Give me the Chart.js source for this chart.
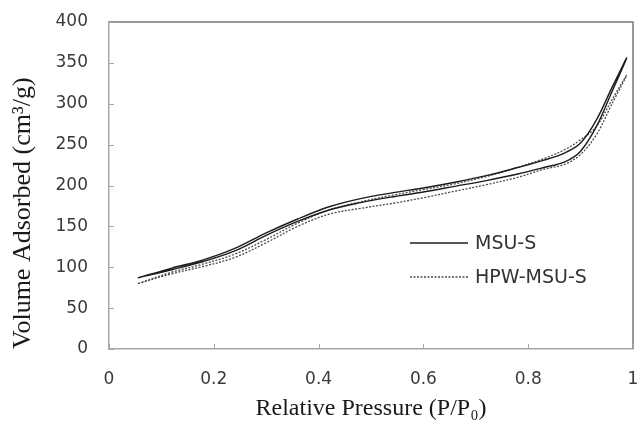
<!DOCTYPE html>
<html>
<head>
<meta charset="utf-8">
<script src="https://cdn.jsdelivr.net/npm/chart.js@4.4.0/dist/chart.umd.min.js"></script>
<style>
  html, body { margin: 0; padding: 0; background: #fff; }
</style>
</head>
<body>
<canvas id="isoChart" width="640" height="424"></canvas>
<script>
// relative pressure (P/P0) where the isotherms were read
const pressure = [0.055, 0.12, 0.18, 0.24, 0.30, 0.36, 0.42, 0.48, 0.54, 0.60, 0.66, 0.72, 0.78, 0.83, 0.87, 0.90, 0.93, 0.96, 0.988];

// MSU-S adsorption / desorption branch (cm3/g)
const msuAds = [87, 97, 107, 120, 139, 156, 170, 179, 186, 192, 199, 206, 214, 222, 229, 242, 272, 315, 356];
const msuDes = [87, 99, 109, 123, 142, 159, 174, 184, 191, 197, 204, 212, 222, 231, 240, 252, 280, 320, 356];

// HPW-MSU-S adsorption / desorption branch
const hpwAds = [80, 92, 101, 112, 130, 150, 165, 172, 178, 185, 193, 201, 210, 220, 226, 238, 262, 300, 335];
const hpwDes = [80, 94, 104, 116, 134, 154, 170, 180, 188, 195, 202, 211, 222, 233, 244, 256, 272, 305, 335];

const seriesNames = ['MSU-S', 'HPW-MSU-S'];
const xTicks = [0, 0.2, 0.4, 0.6, 0.8, 1];
const yTicks = [0, 50, 100, 150, 200, 250, 300, 350, 400];

// up the adsorption branch, back down the desorption branch
function loop(ads, des) {
    const pts = ads.map((v, i) => ({ x: pressure[i], y: v }));
    for (let i = des.length - 2; i >= 0; i--) {
        pts.push({ x: pressure[i], y: des[i] });
    }
    return pts;
}

// top/right frame, inward tick marks and the legend inside the plot
const framePlugin = {
    id: 'frame',
    afterDraw(chart) {
        const { ctx, chartArea: a, scales } = chart;
        ctx.save();
        ctx.lineWidth = 1.5;
        ctx.strokeStyle = '#7a7a7a';
        ctx.beginPath();
        ctx.moveTo(a.left, a.top);
        ctx.lineTo(a.right, a.top);
        ctx.lineTo(a.right, a.bottom);
        ctx.stroke();

        ctx.lineWidth = 1;
        ctx.strokeStyle = '#a8a8a8';
        ctx.beginPath();
        yTicks.forEach(v => {
            const y = Math.round(scales.y.getPixelForValue(v)) + 0.5;
            ctx.moveTo(a.left, y);
            ctx.lineTo(a.left + 5, y);
        });
        xTicks.forEach(v => {
            const x = Math.round(scales.x.getPixelForValue(v)) + 0.5;
            ctx.moveTo(x, a.bottom);
            ctx.lineTo(x, a.bottom - 5);
        });
        ctx.stroke();

        // legend
        const lx = a.left + 301, ly = a.top + 221, gap = 34;
        chart.data.datasets.forEach((ds, i) => {
            const y = ly + i * gap;
            ctx.strokeStyle = ds.borderColor;
            ctx.lineWidth = ds.borderWidth;
            ctx.setLineDash(ds.borderDash || []);
            ctx.beginPath();
            ctx.moveTo(lx, y);
            ctx.lineTo(lx + 58, y);
            ctx.stroke();
            ctx.setLineDash([]);
            ctx.fillStyle = '#333';
            ctx.font = '19px "DejaVu Sans"';
            ctx.textBaseline = 'middle';
            ctx.fillText(ds.label, lx + 65, y + 1);
        });
        ctx.restore();
    }
};

Chart.defaults.font.family = '"DejaVu Sans", sans-serif';

const ctx = document.getElementById('isoChart').getContext('2d');
const isoChart = new Chart(ctx, {
    type: 'scatter',
    data: {
        datasets: [{
            label: seriesNames[0],
            data: loop(msuAds, msuDes),
            showLine: true,
            borderColor: '#1c1c1c',
            borderWidth: 1.4,
            pointRadius: 0,
            tension: 0.35,
            fill: false
        }, {
            label: seriesNames[1],
            data: loop(hpwAds, hpwDes),
            showLine: true,
            borderColor: '#4a4a4a',
            borderWidth: 1.3,
            borderDash: [2, 1.5],
            pointRadius: 0,
            tension: 0.35,
            fill: false
        }]
    },
    options: {
        responsive: false,
        animation: false,
        devicePixelRatio: 1,
        layout: { padding: { left: 0, right: 7, top: 22, bottom: 0 } },
        plugins: {
            legend: { display: false },
            tooltip: { enabled: false }
        },
        scales: {
            x: {
                type: 'linear',
                min: 0,
                max: 1,
                afterBuildTicks: s => { s.ticks = xTicks.map(v => ({ value: v })); },
                afterFit: s => { s.height = 75; s.paddingLeft = 0; s.paddingRight = 0; },
                grid: { drawOnChartArea: false, drawTicks: false },
                border: { display: true, color: '#a8a8a8', width: 1.5 },
                ticks: {
                    padding: 20,
                    color: '#3a3a3a',
                    font: { size: 17 },
                    callback: v => String(v)
                },
                title: {
                    display: true,
                    text: 'Relative Pressure (P/P\u2080)',
                    color: '#1a1a1a',
                    font: { family: '"Liberation Serif", serif', size: 24 },
                    padding: { top: 0, bottom: 1 }
                }
            },
            y: {
                min: 0,
                max: 400,
                afterBuildTicks: s => { s.ticks = yTicks.map(v => ({ value: v })); },
                afterFit: s => { s.width = 109; s.paddingTop = 0; s.paddingBottom = 0; },
                grid: { drawOnChartArea: false, drawTicks: false },
                border: { display: true, color: '#a8a8a8', width: 1.5 },
                ticks: {
                    padding: 21,
                    color: '#3a3a3a',
                    font: { size: 17 }
                },
                title: {
                    display: true,
                    text: 'Volume Adsorbed (cm\u00b3/g)',
                    align: 'start',
                    color: '#1a1a1a',
                    font: { family: '"Liberation Serif", serif', size: 26 },
                    padding: { top: 8, bottom: 0 }
                }
            }
        }
    },
    plugins: [framePlugin]
});
</script>
</body>
</html>
